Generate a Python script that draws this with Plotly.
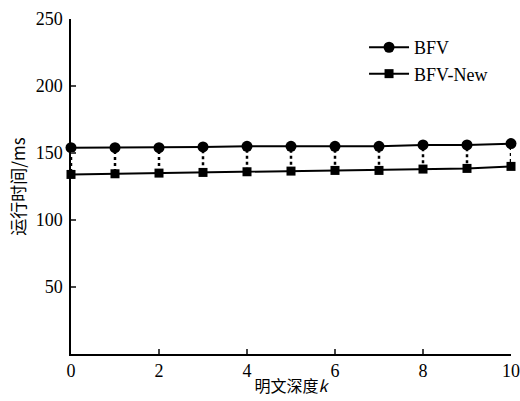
import plotly.graph_objects as go

k_values = [0, 1, 2, 3, 4, 5, 6, 7, 8, 9, 10]
bfv = [154, 154, 154, 154.5, 155, 155, 155, 155, 156, 156, 157]
bfv_new = [134, 134.5, 135, 135.5, 136, 136.5, 137, 137, 138, 138.5, 140]
x_ticks = [0, 2, 4, 6, 8, 10]
y_ticks = [50, 100, 150, 200, 250]

conn_x, conn_y = [], []
for xv, a, b in zip(k_values, bfv, bfv_new):
    conn_x += [xv, xv, None]
    conn_y += [a - 2.5, b + 2.5, None]

fig = go.Figure()
fig.add_trace(go.Scatter(x=conn_x, y=conn_y, mode="lines", showlegend=False,
                         line=dict(color="black", width=2.5, dash="dot"), hoverinfo="skip",
                         cliponaxis=False))
fig.add_trace(go.Scatter(x=k_values, y=bfv, mode="lines+markers", name="BFV",
                         line=dict(color="black", width=2),
                         marker=dict(symbol="circle", size=11, color="black"), cliponaxis=False))
fig.add_trace(go.Scatter(x=k_values, y=bfv_new, mode="lines+markers", name="BFV-New",
                         line=dict(color="black", width=2),
                         marker=dict(symbol="square", size=9, color="black"), cliponaxis=False))

serif = "Liberation Serif, Times New Roman, serif"
cjk = "Noto Sans CJK SC"
fig.update_layout(
    width=520, height=401,
    margin=dict(l=71, r=9, t=19, b=47),
    paper_bgcolor="white", plot_bgcolor="white",
    font=dict(family=serif, size=18, color="black"),
    showlegend=True,
    legend=dict(x=0.666, y=0.97, xanchor="left", yanchor="top", bgcolor="rgba(0,0,0,0)",
                font=dict(family=serif, size=18), itemwidth=40, tracegroupgap=0),
    xaxis=dict(range=[0, 10], tickvals=x_ticks, ticks="inside", ticklen=5, tickwidth=1.5,
               showline=True, linecolor="black", linewidth=1.5, showgrid=False, zeroline=False,
               tickfont=dict(family=serif, size=18), automargin=False,
               title=dict(text="明文深度<i>k</i>", font=dict(family=cjk, size=16), standoff=0)),
    yaxis=dict(range=[0, 250], tickvals=y_ticks, ticks="inside", ticklen=5, tickwidth=1.5,
               showline=True, linecolor="black", linewidth=1.5, showgrid=False, zeroline=False,
               tickfont=dict(family=serif, size=18), automargin=False, ticklabelstandoff=3,
               title=dict(text="运行时间/ms", font=dict(family=cjk, size=17), standoff=6)),
)

fig.write_html("out.html", config={"displayModeBar": False},
               post_script="document.body.style.margin='0';document.body.style.overflow='hidden';")
